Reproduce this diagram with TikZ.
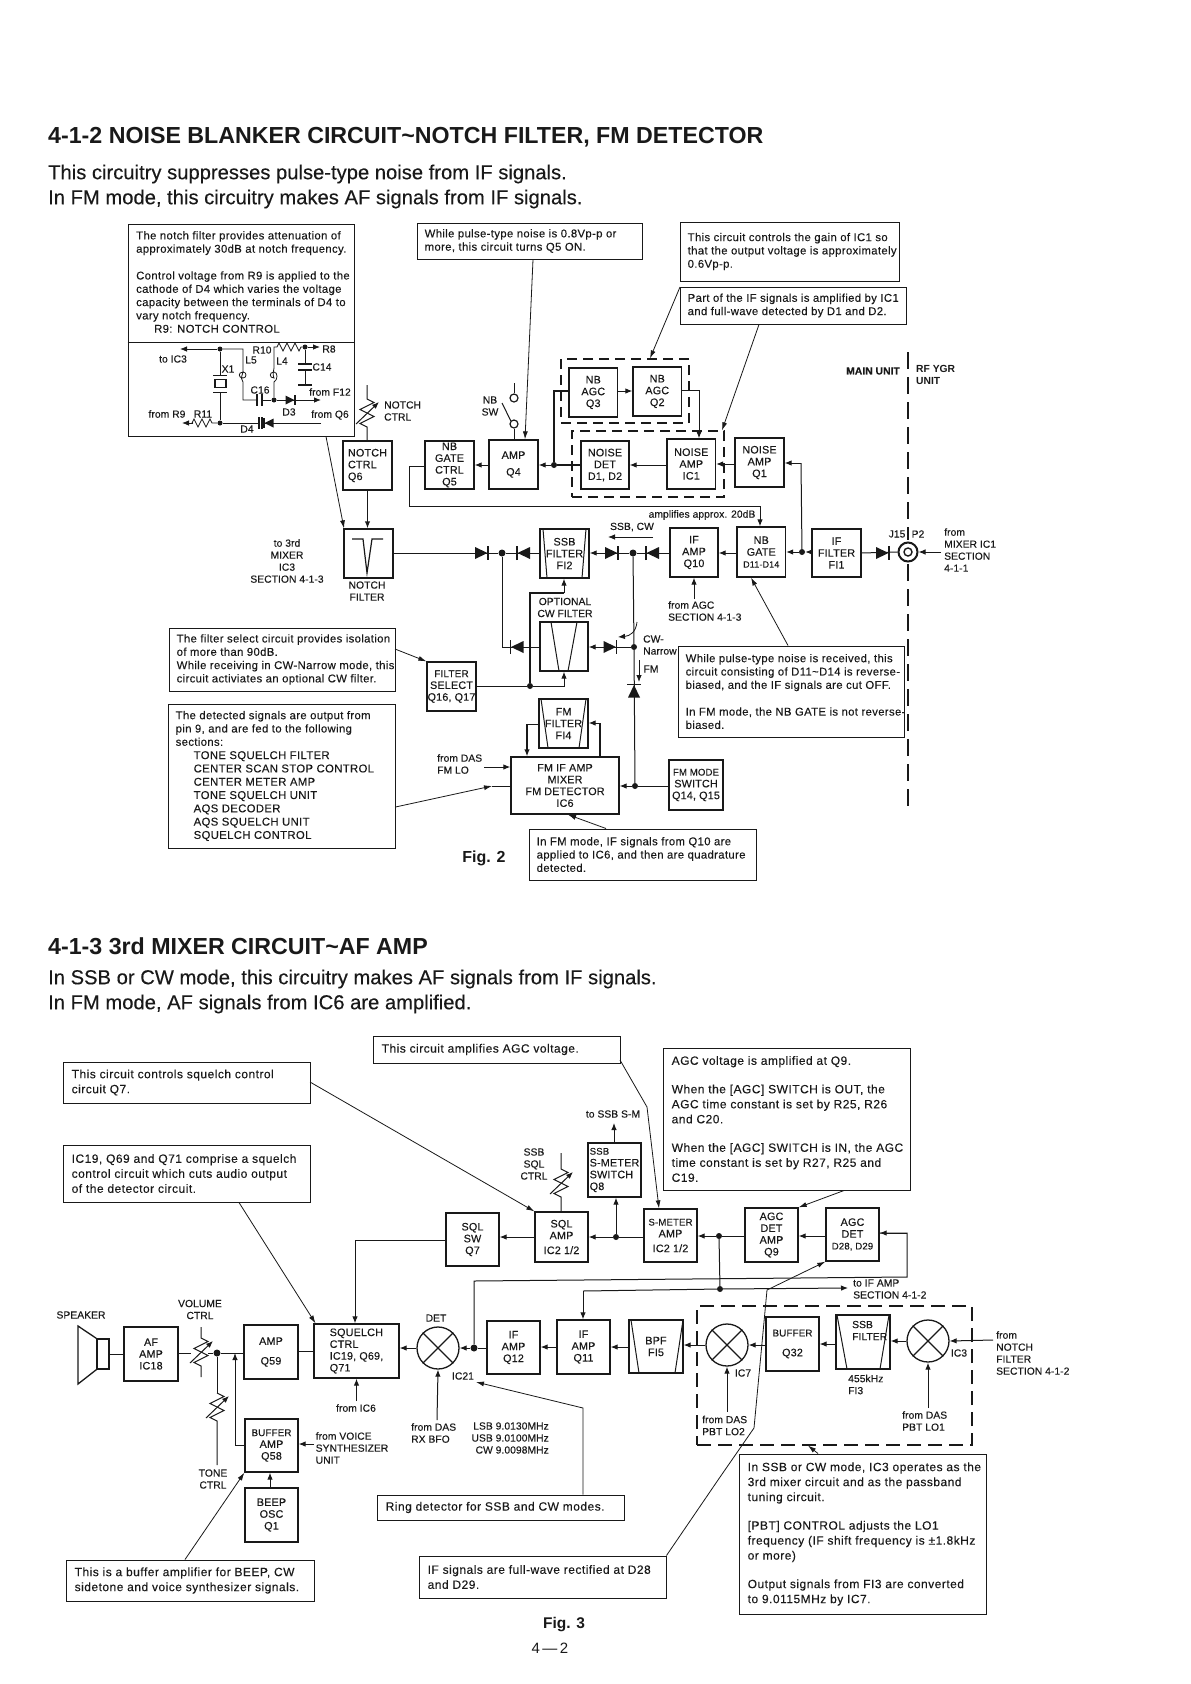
\documentclass[tikz,border=0pt]{standalone}
\usepackage{fontspec}
\setmainfont{Liberation Sans}
\newfontfamily\nfa[LetterSpace=3.2,FakeBold=0.12]{Liberation Sans}
\newfontfamily\nfb[LetterSpace=4,FakeBold=0.12]{Liberation Sans}
\newfontfamily\bkf[LetterSpace=1.5,FakeBold=0.12]{Liberation Sans}
\newfontfamily\lbf[LetterSpace=0.5,FakeBold=0.12]{Liberation Sans}
\newfontfamily\sbf[FakeBold=0.25]{Liberation Sans}
\usetikzlibrary{arrows.meta,calc}
\definecolor{ink}{gray}{0.1}
\newcount\labn
\tikzset{x=1pt,y=-1pt,
  wire/.style={draw=ink,line width=1pt},
  arr/.style={wire,-{Latex[length=7pt,width=5.5pt]}},
  call/.style={draw=ink,line width=0.8pt},
  calla/.style={call,-{Latex[length=8pt,width=5pt]}},
  blk/.style={draw=ink,line width=1.3pt,inner sep=0pt,align=center,font=\bkf\fontsize{10.8}{11.8}\selectfont,text=ink},
  blkl/.style={blk,align=left},
  nbox/.style={draw=ink,line width=1pt,inner sep=0pt},
  ntext/.style={inner sep=0pt,align=left,anchor=west,font=\nfa\fontsize{11.3}{13.3}\selectfont,text=ink},
  ntextb/.style={inner sep=0pt,align=left,anchor=west,font=\nfb\fontsize{12}{15}\selectfont,text=ink},
  lbl/.style={inner sep=0pt,align=center,font=\lbf\fontsize{10.3}{12}\selectfont,text=ink},
  lbll/.style={lbl,align=left,anchor=west},
  lblr/.style={lbl,align=right,anchor=east},
  bld/.style={inner sep=0pt,align=left,anchor=west,font=\bfseries\fontsize{10.3}{12}\selectfont,text=ink},
  jct/.style={circle,fill=ink,inner sep=0pt,minimum size=6pt},
  dbox/.style={draw=ink,line width=1.3pt,dash pattern=on 10pt off 6pt,inner sep=0pt},
  dboxc/.style={dbox,line width=1.1pt,dash pattern=on 14pt off 7pt},
  mix/.style={circle,draw=ink,line width=1.3pt,minimum size=42pt,inner sep=0pt},
  sect/.style={inner sep=0pt,anchor=west,font=\bfseries\fontsize{23.2}{28}\selectfont,text=ink},
  subt/.style={inner sep=0pt,anchor=west,font=\sbf\fontsize{20.2}{22}\selectfont,text=ink},
  figl/.style={inner sep=0pt,font=\bfseries\fontsize{16}{20}\selectfont,text=ink}
}
\newcommand\geom[4]{\pgfmathsetmacro\bw{#3-#1}\pgfmathsetmacro\bh{#4-#2}\pgfmathsetmacro\bcx{(#1+#3)/2}\pgfmathsetmacro\bcy{(#2+#4)/2}}
\newcommand\bx[6]{\geom{#2}{#3}{#4}{#5}%
  \node[blk,minimum width=\bw pt,minimum height=\bh pt] (#1) at (\bcx,\bcy) {#6};}
\newcommand\bxl[6]{\geom{#2}{#3}{#4}{#5}%
  \node[blkl,minimum width=\bw pt,minimum height=\bh pt] (#1) at (\bcx,\bcy) {#6};}
\newcommand\dbx[6][dbox]{\geom{#3}{#4}{#5}{#6}%
  \node[#1,minimum width=\bw pt,minimum height=\bh pt] (#2) at (\bcx,\bcy) {};}
\newcommand\note[6]{\geom{#2}{#3}{#4}{#5}%
  \node[nbox,minimum width=\bw pt,minimum height=\bh pt] (#1) at (\bcx,\bcy) {};
  \node[ntext] (#1t) at ($(#1.west)+(8,0)$) {#6};}
\newcommand\noteb[6]{\geom{#2}{#3}{#4}{#5}%
  \node[nbox,minimum width=\bw pt,minimum height=\bh pt] (#1) at (\bcx,\bcy) {};
  \node[ntextb] (#1t) at ($(#1.west)+(9,0)$) {#6};}
\newcommand\lab[3]{\global\advance\labn by 1 \node[lbl] (lab\the\labn) at (#1,#2) {#3};}
\newcommand\labl[3]{\global\advance\labn by 1 \node[lbll] (lab\the\labn) at (#1,#2) {#3};}
\newcommand\labr[3]{\global\advance\labn by 1 \node[lblr] (lab\the\labn) at (#1,#2) {#3};}
\newcommand\dio[3]{\begin{scope}[shift={(#1,#2)},rotate=#3]\fill[ink] (-6.5,-6)--(6,0)--(-6.5,6)--cycle;\draw[ink,line width=1.5pt] (6.5,-7)--(6.5,7);\end{scope}}
\newcommand\sdio[3]{\begin{scope}[shift={(#1,#2)},rotate=#3]\fill[ink] (-4.5,-4.5)--(4.5,0)--(-4.5,4.5)--cycle;\draw[ink,line width=1.2pt] (5,-5)--(5,5);\end{scope}}
\newcommand\pot[4]{\draw[wire] (#1,#2) -- (#1,#4-14) -- ++(7,3.5) -- ++(-14,7) -- ++(14,7) -- ++(-14,7) -- ++(7,3.5) -- (#1,#3);
  \draw[arr] (#1-11,#4+11) -- (#1+12,#4-11);}
\newcommand\filt[8]{\draw[wire] (#1,#2)--(#3,#4) (#5,#6)--(#7,#8);}
\newcommand\tld{\textasciitilde}
\begin{document}
\begin{tikzpicture}
\useasboundingbox (0,0) rectangle (1191,1684);
\fill[white] (0,0) rectangle (1191,1684);
%% headings
\node[sect] (h1) at (48,137) {4-1-2 NOISE BLANKER CIRCUIT\tld NOTCH FILTER, FM DETECTOR};
\node[subt] (s1) at (48,174) {This circuitry suppresses pulse-type noise from IF signals.};
\node[subt] (s2) at (48,199) {In FM mode, this circuitry makes AF signals from IF signals.};
\node[sect] (h2) at (48,946) {4-1-3 3rd MIXER CIRCUIT\tld AF AMP};
\node[subt] (s3) at (48,979) {In SSB or CW mode, this circuitry makes AF signals from IF signals.};
\node[subt] (s4) at (48,1004) {In FM mode, AF signals from IC6 are amplified.};

%%%%%%%%%%%%%%%%%% FIG 2
\note{nN}{128}{224}{354}{436}{}
\draw[wire] (nN.west |- 0,342) -- (nN.east |- 0,342);
\node[ntext,anchor=north west] (nNt2) at (136,231) {The notch filter provides attenuation of\\approximately 30dB at notch frequency.\\[13.5pt]Control voltage from R9 is applied to the\\cathode of D4 which varies the voltage\\capacity between the terminals of D4 to\\vary notch frequency.\\\hspace*{18pt}R9: NOTCH CONTROL};
%% notch circuit
\node[jct,minimum size=5pt] (ja) at (220,349) {};
\node[jct,minimum size=5pt] (jb) at (220,423) {};
\node[jct,minimum size=5pt] (jc) at (274,400) {};
\node[jct,minimum size=5pt] (jd) at (305,347) {};
\coordinate (toic3) at (180,349);
\draw[arr,line width=.8pt] (ja) -- (toic3);
\draw[wire,line width=.8pt] (ja) -- (220,375) (220,392) -- (jb);
\draw[wire,line width=.8pt] (213,375)--(227,375) (213,392)--(227,392);
\draw[wire,line width=1.2pt] (215,379.5) rectangle (226,387.5);
\draw[wire,line width=.8pt] (ja) -- (243,349) -- (243,372) .. controls (247,372) and (247,378) .. (243,378) .. controls (238,378) and (238,372) .. (243,372) .. controls (241,378) and (241,380) .. (243,382) -- (243,400) -- (257,400);
\draw[wire,line width=1.2pt] (257,394)--(257,406) (262,394)--(262,406);
\draw[wire,line width=.8pt] (262,400) -- (jc);
\draw[wire,line width=.8pt] (jc) -- (274,382) .. controls (278,380) and (278,372) .. (274,372) .. controls (269,372) and (269,378) .. (274,378) .. controls (272,374) and (274,370) .. (274,368) -- (274,347) -- (277,347) -- ++(2,-4) -- ++(4,8) -- ++(4,-8) -- ++(4,8) -- ++(4,-8) -- ++(4,8) -- ++(2,-4) -- (jd);
\coordinate (r8e) at (320,347);
\draw[arr,line width=.8pt] (jd) -- (r8e);
\draw[wire,line width=.8pt] (jd) -- (305,364);
\draw[wire,line width=1.2pt] (298,364)--(312,364) (298,370)--(312,370) (298,385)--(312,385);
\draw[wire,line width=.8pt] (305,370)--(305,385);
\sdio{290}{400}{0}
\coordinate (d3e) at (321,400);
\draw[arr,line width=.8pt] (jc) -- (d3e);
\coordinate (q6in) at (321,423);
\draw[wire,line width=.8pt] (q6in) -- (262,423);
\sdio{269}{423}{180}
\draw[wire,line width=1.2pt] (259,417)--(259,429) (262,417)--(262,429);
\draw[wire,line width=.8pt] (259,423) -- (jb);
\coordinate (r9e) at (182,423);
\draw[wire,line width=.8pt] (jb) -- (212,423) -- ++(-2,-4) -- ++(-4,8) -- ++(-4,-8) -- ++(-4,8) -- ++(-4,-8) -- ++(-2,4) -- (193,423);
\draw[arr,line width=.8pt] (193,423) -- (r9e);
\lab{173}{359}{to IC3}\lab{228}{369}{X1}\lab{251}{360}{L5}\lab{282}{361}{L4}\lab{262}{350}{R10}\lab{329}{349}{R8}\lab{322}{367}{C14}\lab{260}{390}{C16}\lab{330}{392}{from F12}\lab{289}{412}{D3}\lab{330}{415}{from Q6}\lab{247}{429}{D4}\lab{167}{414}{from R9}\lab{203}{414}{R11}

\note{nP}{417}{223}{642}{259}{While pulse-type noise is 0.8Vp-p or\\more, this circuit turns Q5 ON.}
\note{nG}{680}{222}{899}{281}{This circuit controls the gain of IC1 so\\that the output voltage is approximately\\0.6Vp-p.}
\note{nI}{680}{287}{906}{324}{Part of the IF signals is amplified by IC1\\and full-wave detected by D1 and D2.}

\dbx{dA}{561}{359}{689}{423}
\dbx{dB}{572}{431}{724}{497}
\bxl{q6}{343}{441}{392}{490}{NOTCH\\CTRL\\Q6}
\bx{q5}{425}{441}{474}{489}{NB\\GATE\\CTRL\\Q5}
\bx{q4}{489}{440}{538}{489}{AMP\\[5pt]Q4}
\bx{q3}{569}{368}{617.5}{417}{NB\\AGC\\Q3}
\bx{q2}{633}{367}{681.5}{416}{NB\\AGC\\Q2}
\bx{d1}{581}{441}{629}{489}{NOISE\\DET\\D1, D2}
\bx{ic1}{667}{439}{715.5}{489}{NOISE\\AMP\\IC1}
\bx{q1}{735}{438}{784}{487}{NOISE\\AMP\\Q1}
\bx{nbg}{737}{527}{785.5}{577}{NB\\GATE\\\fontsize{9}{12}\selectfont D11-D14}
\bx{q10}{670}{528}{718}{577}{IF\\AMP\\Q10}
\bx{fi1}{812}{529}{861}{577}{IF\\FILTER\\FI1}
\bx{fi2}{540}{529}{589}{578}{SSB\\FILTER\\FI2}
\filt{543}{529}{547}{578}{586}{529}{582}{578}
\bx{nf}{344}{529}{393}{578}{}
\draw[wire,line width=1.2pt] (352,539)--(363,539)--(367,573)--(372,539)--(383,539);
\bx{cw}{540}{622}{588}{671}{}
\filt{551}{622}{559}{671}{577}{622}{568}{671}
\bx{fsel}{427}{662}{476}{711}{\fontsize{10}{11.8}\selectfont FILTER\\SELECT\\Q16, Q17}
\bx{fi4}{539}{699}{588}{748}{FM\\FILTER\\FI4}
\filt{541}{699}{548}{748}{586}{699}{579}{748}
\bx{ic6}{511}{757}{619}{814}{FM IF AMP\\MIXER\\FM DETECTOR\\IC6}
\bx{fmm}{669}{760}{723}{810}{\fontsize{9.6}{11.8}\selectfont FM MODE\\SWITCH\\Q14, Q15}

\node[jct] (j1) at (554,465) {};
\node[jct] (j2) at (802,552) {};
\node[jct,minimum size=7pt] (j3) at (633,553) {};
\node[jct,minimum size=7pt] (j4) at (502,553) {};
\node[jct] (j5) at (634,647) {};
\node[jct] (j6) at (530,686) {};
\node[jct] (j7) at (635,786) {};

\pot{367}{385}{441}{413}
\draw[arr,line width=1.3pt] (q6.south) -- (q6.south |- nf.north);
\draw[wire,line width=1.5pt] (d1.west |- j1) -- (j1);
\draw[arr] (j1) -- (q4.east |- j1);
\draw[arr] (q4.west |- j1) -- (q5.east |- j1);
\draw[wire] (q5.west |- 0,466) -- (409,466) -- (409,506) -- (760,506);
\draw[arr] (760,506) -- (760,0 |- nbg.north);
\draw[wire,line width=1.3pt] (j1) -- (554,391) -- (q3.west |- 0,391);
\draw[arr] (q3.east |- 0,391) -- (q2.west |- 0,391);
\draw[wire] (q2.east |- 0,390) -- (699,390);
\draw[arr] (699,390) -- (699,0 |- ic1.north);
\draw[arr] (ic1.west |- 0,465) -- (d1.east |- 0,465);
\draw[arr] (q1.west |- 0,464) -- (ic1.east |- 0,464);
\draw[wire] (j2) -- (801,463);
\draw[arr] (801,463) -- (q1.east |- 0,463);
%% switch
\coordinate (swt) at (514,383);
\node[circle,draw=ink,line width=1.2pt,inner sep=0pt,minimum size=8pt] (sw1) at (514,398) {};
\node[circle,draw=ink,line width=1.2pt,inner sep=0pt,minimum size=8pt] (sw2) at (514,424) {};
\draw[wire] (swt) -- (sw1.north);
\draw[wire] (sw2.south) -- (514,0 |- q4.north);
\draw[wire] (502,403) -- (sw2.north west);
\lab{490}{406}{NB\\SW}
%% callouts
\draw[calla] (533,0 |- nP.south) -- (525,0 |- q4.north);
\draw[calla] (680,287) -- (650,0 |- dA.north);
\draw[calla] (759,0 |- nI.south) -- (722,0 |- dB.north);
\draw[calla] (326,0 |- nN.south) -- (344,0 |- nf.north);
%% main row
\draw[wire] (nf.east |- 0,553) -- (j4);
\dio{481.5}{553}{0}
\draw[wire] (j4) -- (fi2.west |- j4);
\dio{523.5}{553}{180}
\draw[arr] (j3) -- (fi2.east |- j3);
\dio{611.5}{553}{0}
\draw[wire] (q10.west |- j3) -- (j3);
\dio{652.5}{553}{180}
\draw[arr] (nbg.west |- 0,553) -- (q10.east |- 0,553);
\draw[arr] (fi1.west |- 0,552) -- (j2);
\draw[arr] (j2) -- (nbg.east |- j2);
\coordinate (p2e) at (941,552);
\node[circle,draw=ink,line width=2pt,inner sep=0pt,minimum width=19pt,minimum height=19pt] (j15) at (908,552) {};
\node[circle,draw=ink,line width=1.4pt,inner sep=0pt,minimum size=8pt] (j15i) at (908,552) {};
\draw[wire] (fi1.east |- 0,553) -- (j15.west);
\dio{882.5}{553}{0}
\draw[arr] (p2e) -- (j15.east);
\draw[wire,line width=1.8pt,dash pattern=on 17pt off 8pt] (908,352) -- (908,540);
\draw[wire,line width=1.8pt,dash pattern=on 17pt off 8pt] (908,564) -- (908,811);
%% lower
\draw[wire] (j4) -- (502,647) -- (cw.west |- 0,647);
\dio{517}{647}{180}
\draw[wire] (fsel.east |- j6) -- (j6);
\draw[arr] (j6) -- (564,686) -- (564,0 |- cw.south);
\draw[wire,line width=1.3pt] (j6) -- (530,593) -- (564,593);
\draw[arr] (564,593) -- (564,0 |- fi2.south);
\draw[arr] (j5) -- (cw.east |- j5);
\dio{610}{647}{0}
\draw[wire] (j3) -- (j5);
\draw[wire] (j5) -- (j7);
\dio{634}{691}{90}
\coordinate (swc) at (637,622);
\coordinate (swd) at (618,637);
\draw[arr,line width=.8pt] (swc) .. controls (636,632) and (630,636) .. (swd);
\coordinate (fma) at (639,660); \coordinate (fmb) at (639,682);
\draw[arr,line width=.8pt] (fma) -- (fmb);
\draw[wire] (fmm.west |- j7) -- (j7);
\draw[arr] (j7) -- (ic6.east |- j7);
\draw[wire] (fi4.west |- 0,724) -- (527,724);
\draw[arr,line width=1.3pt] (527,724) -- (527,0 |- ic6.north);
\draw[wire,line width=1.3pt] (600,0 |- ic6.north) -- (600,723);
\draw[arr] (600,723) -- (fi4.east |- 0,723);
\coordinate (fmlo) at (484,767);
\draw[arr] (fmlo) -- (ic6.west |- fmlo);
\coordinate (bk1) at (492,786);
\draw[wire] (ic6.west |- bk1) -- (bk1);
%% fig2 notes
\note{nF}{169}{628}{395}{691}{The filter select circuit provides isolation\\of more than 90dB.\\While receiving in CW-Narrow mode, this\\circuit activiates an optional CW filter.}
\note{nD}{168}{704}{395}{848}{The detected signals are output from\\pin 9, and are fed to the following\\sections:\\\hspace*{18pt}TONE SQUELCH FILTER\\\hspace*{18pt}CENTER SCAN STOP CONTROL\\\hspace*{18pt}CENTER METER AMP\\\hspace*{18pt}TONE SQUELCH UNIT\\\hspace*{18pt}AQS DECODER\\\hspace*{18pt}AQS SQUELCH UNIT\\\hspace*{18pt}SQUELCH CONTROL}
\note{nW}{678}{646}{904}{737}{While pulse-type noise is received, this\\circuit consisting of D11\tld D14 is reverse-\\biased, and the IF signals are cut OFF.\\[13.5pt]In FM mode, the NB GATE is not reverse-\\biased.}
\note{nM}{529}{829}{756}{880}{In FM mode, IF signals from Q10 are\\applied to IC6, and then are quadrature\\detected.}
\draw[calla] (395,649) -- (fsel.north west);
\draw[calla] (nD.east |- 0,807) -- (bk1);
\draw[calla] (788,0 |- nW.north) -- (751,0 |- nbg.south);
\draw[calla] (606,0 |- nM.north) -- (568,0 |- ic6.south);
\coordinate (agcs) at (694,599);
\draw[arr] (agcs) -- (694,0 |- q10.south);
\coordinate (ssb1) at (653,537); \coordinate (ssb2) at (608,537);
\draw[arr,line width=.8pt] (ssb1) -- (ssb2);
%% fig2 labels
\labl{384}{411}{NOTCH\\CTRL}
\labr{900}{371}{\bfseries MAIN UNIT}
\node[bld] (rfy) at (916,375) {RF YGR\\UNIT};
\lab{702}{515}{amplifies approx. 20dB}
\lab{632}{527}{SSB, CW}
\lab{897}{534}{J15}\lab{918}{534}{P2}
\labl{944}{550}{from\\MIXER IC1\\SECTION\\4-1-1}
\labl{668}{611}{from AGC\\SECTION 4-1-3}
\lab{287}{561}{to 3rd\\MIXER\\IC3\\SECTION 4-1-3}
\lab{367}{591}{NOTCH\\FILTER}
\lab{565}{607.5}{OPTIONAL\\CW FILTER}
\labl{643}{645}{CW-\\Narrow}
\lab{651}{669}{FM}
\labl{437}{764}{from DAS\\FM LO}
\node[figl] (f2) at (484,858) {Fig. 2};

%%%%%%%%%%%%%%%%%% FIG 3
\noteb{nS}{63}{1062}{310}{1103}{This circuit controls squelch control\\circuit Q7.}
\noteb{nC}{63}{1145}{310}{1202}{IC19, Q69 and Q71 comprise a squelch\\control circuit which cuts audio output\\of the detector circuit.}
\noteb{nA}{373}{1036}{620}{1063}{This circuit amplifies AGC voltage.}
\noteb{nV}{663}{1048}{910}{1190}{AGC voltage is amplified at Q9.\\[13.5pt]When the [AGC] SWITCH is OUT, the\\AGC time constant is set by R25, R26\\and C20.\\[13.5pt]When the [AGC] SWITCH is IN, the AGC\\time constant is set by R27, R25 and\\C19.}
\noteb{nR}{377}{1495}{624}{1520}{Ring detector for SSB and CW modes.}
\noteb{nB}{66}{1560}{314}{1601}{This is a buffer amplifier for BEEP, CW\\sidetone and voice synthesizer signals.}
\noteb{nE}{419}{1556}{666}{1598}{IF signals are full-wave rectified at D28\\and D29.}
\noteb{nL}{739}{1454}{986}{1614}{In SSB or CW mode, IC3 operates as the\\3rd mixer circuit and as the passband\\tuning circuit.\\[13.5pt][PBT] CONTROL adjusts the LO1\\frequency (IF shift frequency is ±1.8kHz\\or more)\\[13.5pt]Output signals from FI3 are converted\\to 9.0115MHz by IC7.}

\dbx[dboxc]{dC}{697}{1306}{972}{1445}
\bxl{q8}{588}{1143}{641}{1197}{\fontsize{9.6}{11.8}\selectfont SSB\\S-METER\\SWITCH\\Q8}
\bx{ic2a}{535}{1212}{588}{1262}{SQL\\AMP\\[3pt]IC2 1/2}
\bx{q7}{446}{1213}{499}{1266}{SQL\\SW\\Q7}
\bx{ic2b}{644}{1209}{697}{1262}{\fontsize{9.6}{11.8}\selectfont S-METER\\AMP\\[3pt]IC2 1/2}
\bx{q9}{745}{1208}{798}{1262}{AGC\\DET\\AMP\\Q9}
\bx{d28}{826}{1208}{879}{1261}{AGC\\DET\\\fontsize{9.6}{11.8}\selectfont D28, D29}
\bx{ic18}{124}{1327}{178}{1381}{AF\\AMP\\IC18}
\bx{q59}{244}{1325}{298}{1379}{AMP\\[8pt]Q59}
\bxl{sq}{314}{1324}{399}{1378}{SQUELCH\\CTRL\\IC19, Q69,\\Q71}
\bx{q12}{487}{1321}{540}{1374}{IF\\AMP\\Q12}
\bx{q11}{557}{1320}{610}{1374}{IF\\AMP\\Q11}
\bx{fi5}{629}{1320}{683}{1373}{BPF\\FI5}
\filt{631}{1320}{639}{1373}{683}{1320}{675}{1373}
\bx{q32}{766}{1317}{819}{1371}{\fontsize{9.8}{11.8}\selectfont BUFFER\\[8pt]Q32}
\node[blk,minimum width=54pt,minimum height=54pt] (fi3) at (863,1342) {};
\filt{837}{1315}{847}{1369}{889}{1315}{880}{1369}
\bx{q58}{245}{1419}{298}{1472}{\fontsize{9.8}{11.8}\selectfont BUFFER\\AMP\\Q58}
\bx{beep}{245}{1488}{298}{1542}{BEEP\\OSC\\Q1}
\node[mix] (det) at (438,1348) {};
\node[mix] (ic7) at (727,1345) {};
\node[mix] (ic3) at (928,1341) {};
\foreach \m in {det,ic7,ic3}{\draw[wire,line width=1.2pt] (\m.north west)--(\m.south east) (\m.north east)--(\m.south west);}
%% speaker
\node[draw=ink,line width=1.3pt,minimum width=12pt,minimum height=30pt,inner sep=0pt] (spk) at (103,1354) {};
\draw[wire,line width=1.3pt] (spk.north west) -- (78,1326) -- (78,1384) -- (spk.south west);
\draw[wire] (spk.east) -- (ic18.west |- spk.east);

\node[jct] (k1) at (616,1237) {};
\node[jct] (k2) at (719,1236) {};
\node[jct] (k3) at (720,1289) {};
\node[jct,minimum size=7pt] (k4) at (474,1348) {};
\node[jct,minimum size=7pt] (k5) at (217,1353) {};

\draw[wire] (ic2b.west |- k1) -- (k1);
\draw[arr] (k1) -- (ic2a.east |- k1);
\draw[arr] (k1) -- (q8.south -| k1);
\coordinate (ssbsm) at (614,1123);
\draw[arr] (614,0 |- q8.north) -- (ssbsm);
\draw[arr] (ic2a.west |- 0,1237) -- (q7.east |- 0,1237);
\draw[wire] (q9.west |- k2) -- (k2);
\draw[arr] (k2) -- (ic2b.east |- k2);
\draw[arr] (d28.west |- 0,1236) -- (q9.east |- 0,1236);
\draw[wire] (k2) -- (k3);
\coordinate (toif) at (848,1288);
\draw[arr] (k3) -- (toif);
\draw[wire] (k3) -- (583,1291);
\draw[arr] (583,1291) -- (583,0 |- q11.north);
\draw[wire] (d28.east |- 0,1233) -- (907,1233) -- (907,1277) -- (474,1281) -- (k4);
\draw[arr] (907,1233) -- (d28.east |- 0,1233);
\draw[wire] (q7.west |- 0,1240) -- (355,1240);
\draw[arr] (355,1240) -- (355,0 |- sq.north);
\pot{561}{1153}{1212}{1183}
%% row
\draw[arr] (q11.west |- 0,1347) -- (q12.east |- 0,1347);
\draw[wire] (q12.west |- k4) -- (k4);
\draw[arr] (k4) -- (det.east);
\draw[arr] (det.west) -- (sq.east |- det.west);
\draw[wire] (sq.west |- 0,1351) -- (q59.east |- 0,1351);
\draw[wire] (q59.west |- k5) -- (k5);
\draw[arr] (fi5.west |- 0,1347) -- (q11.east |- 0,1347);
\draw[arr] (ic7.west) -- (fi5.east |- ic7.west);
\draw[arr] (q32.west |- ic7) -- (ic7.east);
\draw[arr] (fi3.west |- 0,1344) -- (q32.east |- 0,1344);
\draw[arr] (ic3.west) -- (fi3.east |- ic3.west);
\coordinate (notchin) at (993,1340);
\draw[arr] (notchin) -- (ic3.east);
\coordinate (lo1) at (928,1408);
\draw[arr] (lo1) -- (ic3.south);
\coordinate (lo2) at (727,1412);
\draw[arr] (lo2) -- (ic7.south);
\coordinate (bfo) at (437,1420);
\draw[arr] (bfo) -- (det.south);
\coordinate (if6) at (356.5,1401);
\draw[arr] (if6) -- (356.5,0 |- sq.south);
\coordinate (voice) at (314,1444);
\draw[arr] (voice) -- (q58.east |- voice);
\draw[arr] (270,0 |- beep.north) -- (270,0 |- q58.south);
\draw[wire] (q58.west |- 0,1445) -- (235,1445);
\draw[arr] (235,1445) -- (235,1353);
\pot{201}{1327}{1377}{1352}
\draw[wire] (ic18.east |- 0,1353) -- (191,1353) (208,1353) -- (k5);
\pot{217}{1393}{1465}{1407}
\draw[wire] (k5) -- (217,1393);
%% callouts
\draw[calla] (310,1082) -- (ic2a.north west);
\draw[calla] (239,0 |- nC.south) -- (315.5,0 |- sq.north);
\draw[call] (620,1060) -- (647,1107);
\draw[calla] (647,1107) -- (659,0 |- ic2b.north);
\draw[calla] (844,0 |- nV.south) -- (q9.north east);
\draw[calla] (583,0 |- nR.north) -- (583,1408) -- (476,1382);
\draw[calla] (185,0 |- nB.north) -- (q58.south west);
\draw[calla] (nE.north east) -- (718,1480) -- (754,1428) -- (767,1290) -- (d28.south west);
\draw[calla] (818,0 |- nL.north) -- (808,0 |- dC.south);
%% labels fig3
\lab{81}{1315}{SPEAKER}
\lab{200}{1309.5}{VOLUME\\CTRL}
\lab{213}{1479}{TONE\\CTRL}
\lab{356}{1408}{from IC6}
\lab{436}{1318}{DET}
\lab{463}{1376}{IC21}
\labl{411}{1433}{from DAS\\RX BFO}
\labr{549}{1438}{LSB 9.0130MHz\\USB 9.0100MHz\\CW 9.0098MHz}
\labl{315.5}{1448}{from VOICE\\SYNTHESIZER\\UNIT}
\lab{613}{1114}{to SSB S-M}
\lab{534}{1164}{SSB\\SQL\\CTRL}
\labl{853}{1289}{to IF AMP\\SECTION 4-1-2}
\lab{743}{1373}{IC7}
\labl{702}{1425.5}{from DAS\\PBT LO2}
\labl{852}{1330.5}{SSB\\FILTER}
\labl{848}{1384.5}{455kHz\\FI3}
\lab{959}{1353}{IC3}
\labl{902}{1421}{from DAS\\PBT LO1}
\labl{996}{1353}{from\\NOTCH\\FILTER\\SECTION 4-1-2}
\node[figl,font=\bfseries\fontsize{15.5}{18}\selectfont] (f3) at (564,1625) {Fig. 3};
\node[figl,font=\fontsize{15}{18}\selectfont] (pg) at (550,1648) {4\,---\,2};
\end{tikzpicture}
\end{document}
